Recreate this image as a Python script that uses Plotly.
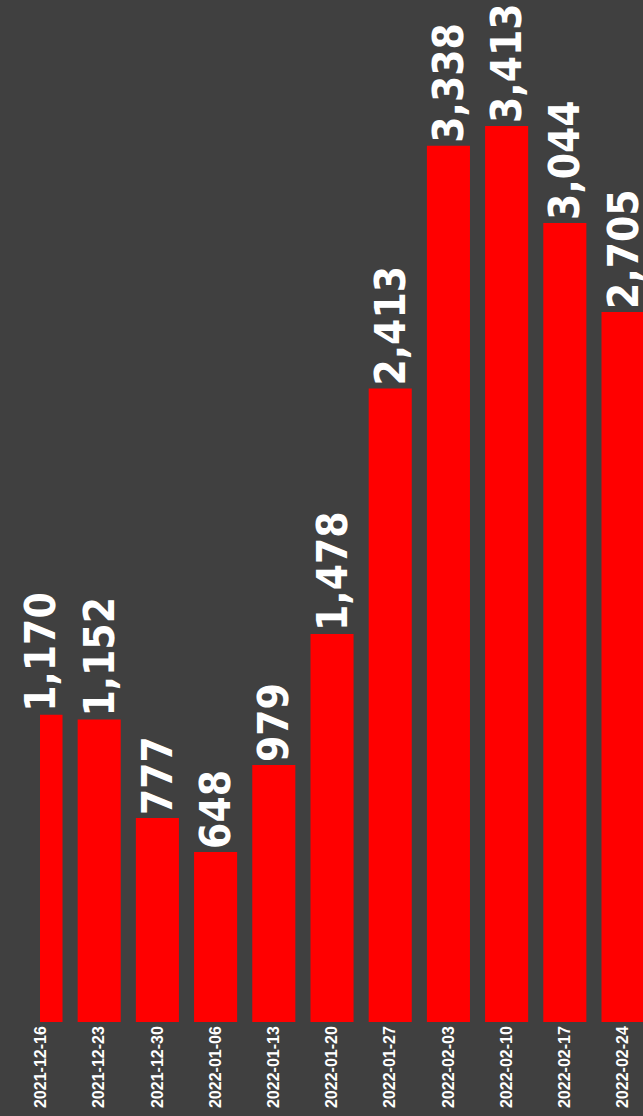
import plotly.graph_objects as go

dates = ["2021-12-16", "2021-12-23", "2021-12-30", "2022-01-06", "2022-01-13",
         "2022-01-20", "2022-01-27", "2022-02-03", "2022-02-10", "2022-02-17", "2022-02-24"]
values = [1170, 1152, 777, 648, 979, 1478, 2413, 3338, 3413, 3044, 2705]
labels = [f"{v:,}" for v in values]

fig = go.Figure(go.Bar(
    x=dates, y=values, text=labels, textposition="outside", textangle=-90,
    constraintext="none", cliponaxis=False,
    marker=dict(color="#ff0000", line=dict(width=0)),
    textfont=dict(family="DejaVu Sans Condensed, DejaVu Sans, sans-serif",
                  size=42, color="#ffffff", weight="bold"),
))

fig.update_layout(
    width=643, height=1116,
    margin=dict(l=40, r=0, t=0, b=94),
    paper_bgcolor="#404040", plot_bgcolor="#404040",
    bargap=0.26, showlegend=False,
    xaxis=dict(type="category", range=[-0.017, 10.343], tickangle=-90,
               tickfont=dict(family="Liberation Sans, Arial, sans-serif", size=16, color="#ffffff", weight="bold"),
               showgrid=False, zeroline=False, showline=False, ticks=""),
    yaxis=dict(range=[0, 3893], visible=False, showgrid=False, zeroline=False),
)

fig.write_html("out.html", config={"displayModeBar": False},
               post_script="document.body.style.margin='0px';document.body.style.background='#404040';")
